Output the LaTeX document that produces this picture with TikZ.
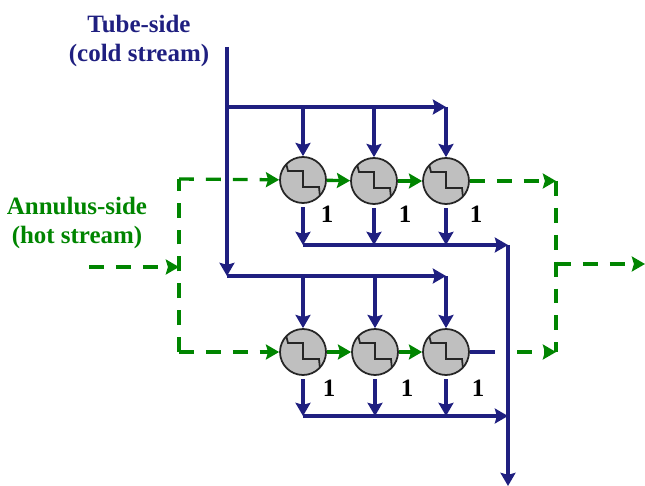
\documentclass[tikz,border=0pt]{standalone}
\usepackage{fontspec}
\setmainfont{Liberation Serif}
\usetikzlibrary{arrows.meta}
\definecolor{tubeblue}{RGB}{31,31,128}
\definecolor{annulusgreen}{RGB}{0,133,0}
\tikzset {>={Stealth[length=7.5pt,width=8.5pt,inset=1.2pt]}}
\tikzset{
  tube/.style={draw=tubeblue,line width=1.9pt},
  drain/.style={tube,->,shorten <=2pt},
  annulus/.style={draw=annulusgreen,line width=1.9pt},
  hotdash/.style={annulus,dash pattern=on 8.5pt off 6.8pt},
  hx/.style={circle,draw=black!85,line width=1pt,fill=black!25,minimum size=0.92cm,inner sep=0pt,
    path picture={\draw[line width=1pt,black!85,shift={(path picture bounding box.center)}]
      (-17,-17) -- (-15,-9) -- (0,-9) -- (0,7) -- (16,7) -- (17,17);}},
  streamlabel/.style={font=\fontsize{14.2}{17}\selectfont\bfseries,align=center},
  passlabel/.style={font=\fontsize{14.2}{17}\selectfont\bfseries}
}
\begin{document}
\begin{tikzpicture}[x=0.02cm,y=-0.02cm]
\useasboundingbox (0,0) rectangle (645,486);

\node[hx] (hxA1) at (303,180) {};
\node[hx] (hxA2) at (374,181) {};
\node[hx] (hxA3) at (446,181) {};
\node[hx] (hxB1) at (303,352) {};
\node[hx] (hxB2) at (375,352) {};
\node[hx] (hxB3) at (446,352) {};

\node[streamlabel,text=tubeblue] (tubelabel) at (139,41) {Tube-side\\(cold stream)};
\node[streamlabel,text=annulusgreen] (annuluslabel) at (77,223) {Annulus-side\\(hot stream)};

\node[passlabel] (passA1) at (327,214) {1};
\node[passlabel] (passA2) at (405,214) {1};
\node[passlabel] (passA3) at (476,214) {1};
\node[passlabel] (passB1) at (329,388) {1};
\node[passlabel] (passB2) at (407,388) {1};
\node[passlabel] (passB3) at (478,388) {1};

% tube side
\coordinate (inlet) at (227,47);
\coordinate (teeA) at (227,107);
\coordinate (teeB) at (227,276);
\coordinate (topA1) at (303,107);
\coordinate (topA2) at (374,107);
\coordinate (topA3) at (446,107);
\coordinate (topB1) at (303,276);
\coordinate (topB2) at (375,276);
\coordinate (topB3) at (446,276);
\coordinate (botA1) at (303,245);
\coordinate (botA2) at (374,245);
\coordinate (botA3) at (446,245);
\coordinate (botB1) at (303,416);
\coordinate (botB2) at (375,416);
\coordinate (botB3) at (446,416);
\coordinate (collectA) at (508,245);
\coordinate (collectB) at (508,416);
\coordinate (outlet) at (508,486);

\draw[tube,->] (inlet) -- (teeB);
\draw[tube,->] (teeA) -- (topA3);
\draw[tube,->] (teeB) -- (topB3);
\draw[tube,->] (topA1) -- (hxA1);
\draw[tube,->] (topA2) -- (hxA2);
\draw[tube,->] (topA3) -- (hxA3);
\draw[tube,->] (topB1) -- (hxB1);
\draw[tube,->] (topB2) -- (hxB2);
\draw[tube,->] (topB3) -- (hxB3);
\draw[drain] (hxA1) -- (botA1);
\draw[drain] (hxA2) -- (botA2);
\draw[drain] (hxA3) -- (botA3);
\draw[drain] (hxB1) -- (botB1);
\draw[drain] (hxB2) -- (botB2);
\draw[drain] (hxB3) -- (botB3);
\draw[tube,->] (botA1) -- (collectA);
\draw[tube,->] (botB1) -- (collectB);
\draw[tube,->] (collectA) -- (outlet);

% annulus side
\coordinate (hotin) at (89,267);
\coordinate (splitmid) at (179,267);
\coordinate (splittop) at (179,179);
\coordinate (splitbot) at (179,352);
\coordinate (mergetop) at (556,181);
\coordinate (mergemid) at (556,264);
\coordinate (mergebot) at (556,352);
\coordinate (hotout) at (645,264);
\coordinate (stubend) at (495,352);
\coordinate (stubgreen) at (517,352);

\draw[hotdash,->] (hotin) -- (splitmid);
\draw[hotdash] (splitbot) -- (splittop);
\draw[hotdash,->] (splittop) -- (hxA1);
\draw[hotdash,->] (splitbot) -- (hxB1);
\draw[annulus,->] (hxA1) -- (hxA2);
\draw[annulus,->] (hxA2) -- (hxA3);
\draw[annulus,->] (hxB1) -- (hxB2);
\draw[annulus,->] (hxB2) -- (hxB3);
\draw[hotdash,->] (hxA3) -- (mergetop);
\draw[tube] (hxB3) -- (stubend);
\draw[hotdash,->] (stubgreen) -- (mergebot);
\draw[hotdash] (mergetop) -- (mergebot);
\draw[hotdash,->] (mergemid) -- (hotout);
\end{tikzpicture}
\end{document}
